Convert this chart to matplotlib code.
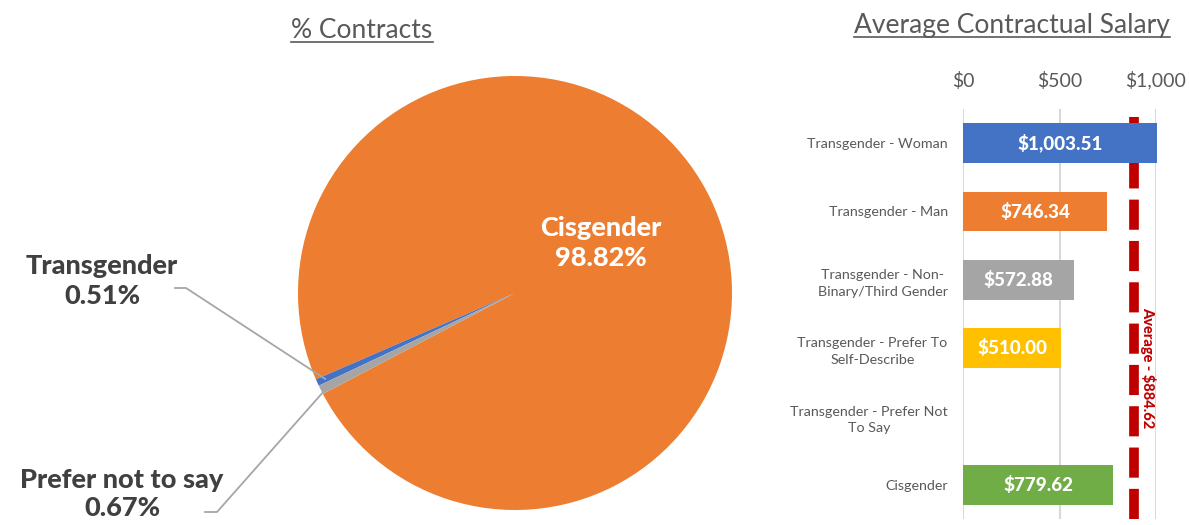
import numpy as np
import matplotlib
matplotlib.use('Agg')
from matplotlib import pyplot as plt
from matplotlib.lines import Line2D

plt.rcParams['font.family'] = ['Lato', 'DejaVu Sans']

# pie data
pie_labels = ['Cisgender', 'Transgender', 'Prefer not to say']
pie_values = [98.82, 0.51, 0.67]
pie_colors = ['#ed7d31', '#4472c4', '#a5a5a5']

# bar data
bar_labels = ['Transgender - Woman', 'Transgender - Man',
              'Transgender - Non-\nBinary/Third Gender',
              'Transgender - Prefer To\nSelf-Describe',
              'Transgender - Prefer Not\nTo Say', 'Cisgender']
bar_values = [1003.51, 746.34, 572.88, 510.00, 0.0, 779.62]
bar_colors = ['#4472c4', '#ed7d31', '#a5a5a5', '#ffc000', '#5b9bd5', '#70ad47']
avg_salary = 884.62
x_ticks = [0, 500, 1000]

W, H = 1189, 525
fig = plt.figure(figsize=(W / 100, H / 100), dpi=100)

# ---- pie ----
cx, cy, r = 515, 293, 217
ax1 = fig.add_axes([(cx - r) / W, (H - cy - r) / H, 2 * r / W, 2 * r / H])
wedges, _ = ax1.pie(pie_values, colors=pie_colors, startangle=-152.3,
                    counterclock=True, radius=1,
                    wedgeprops=dict(linewidth=0))
ax1.set_xlim(-1, 1)
ax1.set_ylim(-1, 1)
ax1.set_aspect('equal')


def px(x, y):
    # figure pixel -> pie data coords
    return (x - cx) / r, (cy - y) / r


def wedge_point(w, rad=0.96):
    a = np.deg2rad((w.theta1 + w.theta2) / 2)
    return rad * np.cos(a), rad * np.sin(a)


tx, ty = px(601, 243)
ax1.text(tx, ty, 'Cisgender\n98.82%', color='white', fontsize=19.5,
         fontweight='black', ha='center', va='center', linespacing=1.25)

lab_col = '#404040'
tx, ty = px(102, 281)
ax1.text(tx, ty, 'Transgender\n0.51%', color=lab_col, fontsize=19.5,
         fontweight='black', ha='center', va='center', linespacing=1.25)
tx, ty = px(122, 494)
ax1.text(tx, ty, 'Prefer not to say\n0.67%', color=lab_col, fontsize=19.5,
         fontweight='black', ha='center', va='center', linespacing=1.25)

# leader lines
for (x0, y0), (x1, y1), w in [((175, 288), (186, 288), wedges[1]),
                               ((205, 512), (217, 512), wedges[2])]:
    a = px(x0, y0)
    b = px(x1, y1)
    c = wedge_point(w)
    ax1.add_line(Line2D([a[0], b[0], c[0]], [a[1], b[1], c[1]],
                        color='#a6a6a6', lw=1.3, clip_on=False))

# ---- bars ----
ax2 = fig.add_axes([963 / W, 6 / H, 193 / W, 410 / H])
ypos = np.arange(len(bar_labels))
ax2.barh(ypos, bar_values, height=0.585, color=bar_colors, zorder=3,
         clip_on=False)
ax2.axvline(avg_salary, color='#c00000', lw=7, dashes=(3.1, 1.15), zorder=2)
for i, v in enumerate(bar_values):
    if v > 0:
        ax2.text(v / 2, i, f'${v:,.2f}', color='white', fontsize=13.5,
                 fontweight='black', ha='center', va='center', zorder=4)
ax2.text(958, 3.29, f'Average - ${avg_salary:,.2f}', color='#c00000',
         fontsize=10.5, fontweight='black', rotation=-90, ha='center',
         va='center')

ax2.set_xlim(0, 1000)
ax2.set_ylim(len(bar_labels) - 0.5, -0.5)
ax2.set_xticks(x_ticks)
ax2.set_xticklabels([f'${t:,}' for t in x_ticks])
ax2.xaxis.tick_top()
ax2.tick_params(axis='x', length=0, pad=14, labelsize=14, labelcolor='#595959')
ax2.set_yticks(ypos)
ax2.set_yticklabels(bar_labels, multialignment='center', linespacing=1.5)
ax2.tick_params(axis='y', length=0, pad=11, labelsize=10.3, labelcolor='#595959')
ax2.grid(axis='x', color='#d9d9d9', lw=1.5, zorder=0)
ax2.set_axisbelow(True)
for s in ax2.spines.values():
    s.set_visible(False)

# ---- titles (underlined) ----
titles = [('% Contracts', 362, 30), ('Average Contractual Salary', 1012, 25)]
tobjs = []
for t, x, y in titles:
    tobjs.append(fig.text(x / W, 1 - y / H, t, fontsize=19, color='#595959',
                          ha='center', va='center'))
fig.canvas.draw()
for to in tobjs:
    bb = to.get_window_extent()
    yl = bb.y0 + 1
    fig.add_artist(Line2D([bb.x0 / W, bb.x1 / W], [yl / H, yl / H],
                          color='#595959', lw=1.2))

fig.savefig('out.png', dpi=100)
